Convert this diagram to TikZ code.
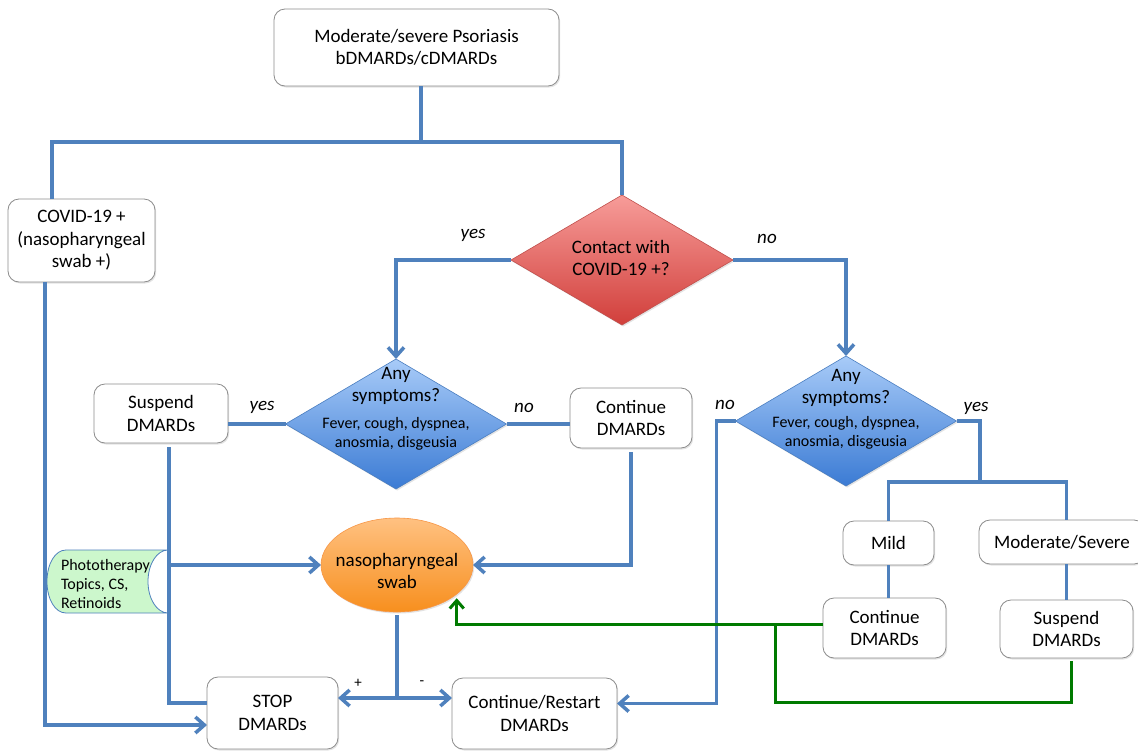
\documentclass[tikz,border=0pt]{standalone}
\usepackage{fontspec}
\setmainfont{Carlito}
\usetikzlibrary{shapes.geometric,arrows.meta,shadows,calc}

\definecolor{lineblue}{HTML}{4F81BD}
\definecolor{flowgreen}{HTML}{007A00}
\definecolor{boxgray}{HTML}{8C8C8C}
\definecolor{redtop}{HTML}{F79C99}
\definecolor{redbot}{HTML}{D13F3B}
\definecolor{redline}{HTML}{C0504D}
\definecolor{bluetop}{HTML}{A8CBF8}
\definecolor{bluebot}{HTML}{3B7BD4}
\definecolor{blueedge}{HTML}{4A7EC0}
\definecolor{orangetop}{HTML}{FFC181}
\definecolor{orangebot}{HTML}{F78F1E}
\definecolor{orangeedge}{HTML}{F79646}
\definecolor{greenfill}{HTML}{CCF7CC}

\begin{document}
\begin{tikzpicture}[x=1pt,y=-1pt,
  every node/.style={inner sep=0pt, outer sep=0pt},
  mainfont/.style={font=\fontsize{19}{22.5}\selectfont},
  smallfont/.style={font=\fontsize{16}{19}\selectfont},
  labelfont/.style={font=\fontsize{19}{22}\selectfont\itshape},
  shade/.style={drop shadow={shadow xshift=1.2pt,shadow yshift=-1.5pt,opacity=0.22}},
  box/.style={rectangle, draw=boxgray, line width=0.8pt, rounded corners=11pt, fill=white,
              align=center, mainfont, shade},
  reddia/.style={diamond, aspect=1.7, minimum width=222pt, minimum height=130pt,
                 top color=redtop, bottom color=redbot, draw=redline, line width=0.6pt, shade},
  bluedia/.style={diamond, aspect=1.7, minimum width=221pt, minimum height=130pt,
                 top color=bluetop, bottom color=bluebot, draw=blueedge, line width=0.6pt, shade},
  swabshape/.style={ellipse, minimum width=152pt, minimum height=94pt,
                 top color=orangetop, bottom color=orangebot, draw=orangeedge, line width=0.6pt, shade},
  flow/.style={draw=lineblue, line width=3.5pt},
  flowarrow/.style={flow, -{Straight Barb[length=9pt,width=16pt]}},
  greenline/.style={draw=flowgreen, line width=3pt},
  greenarrow/.style={greenline, -{Straight Barb[length=8pt,width=14pt]}},
]
\fill[white] (0,0) rectangle (1138,750);
\useasboundingbox (0,0) rectangle (1138,750);

% ---- nodes ----
\node[box, minimum width=285pt, minimum height=77pt] (top) at (416.5,47.5)
  {Moderate/severe Psoriasis\\bDMARDs/cDMARDs};
\node[box, minimum width=147pt, minimum height=83pt] (covid) at (81.5,240.5)
  {COVID-19 +\\(nasopharyngeal\\swab +)};

\node[reddia] (contact) at (622,260) {};
\node[mainfont, align=center] (contacttext) at (621,258) {Contact with\\COVID-19 +?};

\node[bluedia] (sym1) at (396,424) {};
\node[mainfont, align=center] (sym1a) at (396,386) {Any\\symptoms?};
\node[smallfont, align=center] (sym1b) at (396,433.5) {Fever, cough, dyspnea,\\anosmia, disgeusia};

\node[bluedia] (sym2) at (846,421) {};
\node[mainfont, align=center] (sym2a) at (846,388) {Any\\symptoms?};
\node[smallfont, align=center] (sym2b) at (846,432.5) {Fever, cough, dyspnea,\\anosmia, disgeusia};

\node[box, minimum width=134pt, minimum height=59pt] (susp1) at (161,413.5) {Suspend\\DMARDs};
\node[box, minimum width=122pt, minimum height=60pt] (cont1) at (631,418) {Continue\\DMARDs};

% phototherapy (stored data shape)
\filldraw[fill=greenfill, draw=lineblue, line width=0.8pt]
  (168,550) -- (66,550) .. controls (55,550) and (47,564) .. (47,581.5)
  .. controls (47,599) and (55,613) .. (66,613) -- (168,613)
  .. controls (157,613) and (148,599) .. (148,581.5)
  .. controls (148,564) and (157,550) .. (168,550) -- cycle;
\node[smallfont, align=left, anchor=west] (phototext) at (61,584)
  {Phototherapy\\Topics, CS,\\Retinoids};

\node[swabshape] (swab) at (397,565) {};
\node[mainfont, align=center] (swabtext) at (397,571) {nasopharyngeal\\swab};

\node[box, minimum width=131pt, minimum height=72pt] (stop) at (272.5,713) {STOP\\DMARDs};
\node[box, minimum width=165pt, minimum height=71pt] (restart) at (534.5,713.5) {Continue/Restart\\DMARDs};

\node[box, minimum width=91pt, minimum height=44pt] (mild) at (888.5,543) {Mild};
\node[box, minimum width=166pt, minimum height=44pt] (modsev) at (1062,542) {Moderate/Severe};
\node[box, minimum width=123pt, minimum height=60pt] (cont2) at (884.5,628) {Continue\\DMARDs};
\node[box, minimum width=133pt, minimum height=58pt] (susp2) at (1066.5,629) {Suspend\\DMARDs};

% ---- labels ----
\node[labelfont] (lyes1) at (473,235) {yes};
\node[labelfont] (lno1) at (767,239) {no};
\node[labelfont] (lyes2) at (262,407) {yes};
\node[labelfont] (lno2) at (524,408) {no};
\node[labelfont] (lno3) at (725,405) {no};
\node[labelfont] (lyes3) at (976,408) {yes};
\node[font=\fontsize{15}{18}\selectfont] (lplus) at (358,683) {+};
\node[font=\fontsize{15}{18}\selectfont] (lminus) at (422,683) {-};

% ---- connectors ----
\coordinate (j0) at (421,142);
\draw[flow] ([xshift=4.5pt]top.south) -- (j0);
\draw[flow] ([xshift=-29.5pt]covid.north) |- (j0) -| (contact.north);
\draw[flowarrow] ([xshift=-36.5pt]covid.south) |- ([yshift=-12pt]stop.west);

\draw[flowarrow] (contact.west) -| (sym1.north);
\draw[flowarrow] (contact.east) -| (sym2.north);

\draw[flow] (sym1.west) -- (sym1.west -| susp1.east);
\draw[flow] (sym1.east) -- (sym1.east -| cont1.west);

\coordinate (s1) at ([xshift=8pt,yshift=-4pt]susp1.south);
\draw[flow] (s1) |- ([yshift=10pt]stop.west);
\draw[flowarrow] (s1 |- swab.west) -- (swab.west);

\draw[flowarrow] ([yshift=-4pt]cont1.south) |- (swab.east);

\coordinate (b2) at ([yshift=-86pt]swab.south);
\draw[flow] ([yshift=-3pt]swab.south) -- (b2);
\draw[flowarrow] (b2) -- (b2 -| stop.east);
\draw[flowarrow] (b2) -- (b2 -| restart.west);

\draw[flowarrow] (sym2.west) -- ++(-19,0) |- ([yshift=10pt]restart.east);

\coordinate (b3) at (980,482);
\draw[flow] (sym2.east) -| (b3);
\coordinate (m2) at ([xshift=4.5pt]modsev.north);
\draw[flow] (mild.north) |- (b3) -| (m2);
\draw[flow] (mild.south) -- (mild.south |- cont2.north);
\draw[flow] ([xshift=4.5pt]modsev.south) -- (susp2.north);

\coordinate (g0) at ([yshift=4pt]cont2.west);
\draw[greenarrow] (g0) -| ([xshift=6pt]swab.south east);
\coordinate (g1) at (775,702);
\draw[greenline] ([xshift=4.5pt,yshift=-3pt]susp2.south) |- (g1) -- (g1 |- g0);
\end{tikzpicture}
\end{document}
